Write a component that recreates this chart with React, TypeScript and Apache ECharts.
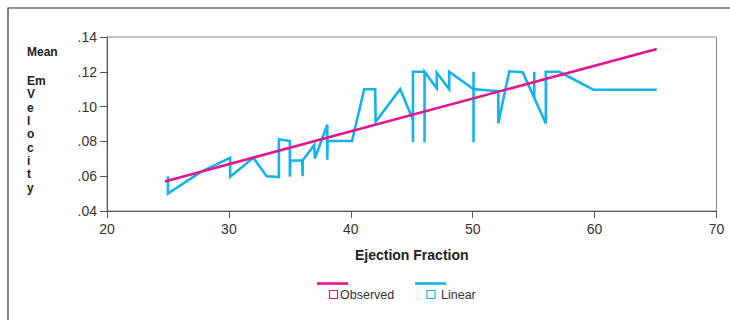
import React, { useEffect, useRef } from "react";
import * as echarts from "echarts";

const observedX = [25, 25, 27.7, 30.1, 30.1, 32, 33.1, 34.1, 34.1, 35, 35, 35.05, 36, 36.05, 36.05, 37, 37.05, 38.07, 38.07, 38.1, 40.1, 41.1, 42, 42.04, 44.05, 45.1, 45.1, 45.1, 46.05, 46.05, 46.05, 47.05, 47.05, 48.07, 48.07, 50.07, 50.07, 50.07, 50.07, 52.1, 52.1, 53.0, 54.1, 55.05, 55.05, 55.05, 56.0, 56.0, 57.1, 59.9, 65.1];
const observedY = [0.060, 0.050, 0.0625, 0.0705, 0.0597, 0.0706, 0.060, 0.0595, 0.0812, 0.0802, 0.0597, 0.0690, 0.0690, 0.0600, 0.0690, 0.0780, 0.0702, 0.0896, 0.0695, 0.0802, 0.0802, 0.1100, 0.1100, 0.0913, 0.1100, 0.0925, 0.0795, 0.1200, 0.1200, 0.0795, 0.1200, 0.1105, 0.1195, 0.1100, 0.1200, 0.1100, 0.1200, 0.0795, 0.1100, 0.1088, 0.0905, 0.1203, 0.1198, 0.1050, 0.1200, 0.1050, 0.0903, 0.1200, 0.1200, 0.1097, 0.1097];

const linearX = [24.75, 65.1];
const linearY = [0.0570, 0.1331];

const xTicks = { min: 20, max: 70, interval: 10 };
const yTicks = { min: 0.04, max: 0.14, interval: 0.02 };

const yNameLetters = ["Em", "V", "e", "l", "o", "c", "i", "t", "y"];

const CYAN = "#13b3ec";
const MAGENTA = "#e5138f";

export default function App() {
  const ref = useRef<HTMLDivElement>(null);
  useEffect(() => {
    if (!ref.current) return;
    const chart = echarts.init(ref.current, null, { renderer: "svg" });
    const font = "Liberation Sans, Arial, sans-serif";
    chart.setOption({
      animation: false,
      backgroundColor: "#ffffff",
      grid: {
        left: 107,
        top: 37,
        right: 13.5,
        bottom: 109,
        show: true,
        borderColor: "#8a8a8a",
        borderWidth: 1,
        backgroundColor: "transparent",
      },
      xAxis: {
        type: "value",
        min: xTicks.min,
        max: xTicks.max,
        interval: xTicks.interval,
        name: "Ejection Fraction",
        nameLocation: "middle",
        nameGap: 37,
        nameTextStyle: { fontFamily: font, fontSize: 14, fontWeight: "bold", color: "#222" },
        axisLine: { show: true, lineStyle: { color: "#555", width: 1 } },
        axisTick: { show: true, length: 7, lineStyle: { color: "#555" } },
        axisLabel: { fontFamily: font, fontSize: 14, color: "#333", margin: 11 },
        splitLine: { show: false },
      },
      yAxis: {
        type: "value",
        min: yTicks.min,
        max: yTicks.max,
        interval: yTicks.interval,
        axisLine: { show: true, lineStyle: { color: "#555", width: 1 } },
        axisTick: { show: true, length: 7, lineStyle: { color: "#555" } },
        axisLabel: {
          fontFamily: font,
          fontSize: 14,
          color: "#333",
          margin: 10,
          formatter: (v: number) => v.toFixed(2).replace(/^0/, ""),
        },
        splitLine: { show: false },
      },
      series: [
        {
          name: "Observed",
          type: "line",
          data: observedX.map((x, i) => [x, observedY[i]]),
          showSymbol: false,
          symbol: "none",
          lineStyle: { color: CYAN, width: 2.6, join: "miter" },
          z: 2,
        },
        {
          name: "Linear",
          type: "line",
          data: linearX.map((x, i) => [x, linearY[i]]),
          showSymbol: false,
          symbol: "none",
          lineStyle: { color: MAGENTA, width: 2.6 },
          z: 3,
        },
      ],
      graphic: [
        {
          type: "rect",
          shape: { x: 8, y: 8, width: 900, height: 500 },
          style: { fill: "none", stroke: "#333", lineWidth: 1.2 },
          silent: true,
        },
        {
          type: "text",
          x: 27,
          y: 52,
          style: { text: "Mean", fontFamily: font, fontSize: 12, fontWeight: "bold", fill: "#222", verticalAlign: "middle", align: "left" },
        },
        ...yNameLetters.map((t, i) => ({
          type: "text",
          x: 27,
          y: 81 + i * 13.33,
          style: { text: t, fontFamily: font, fontSize: 12, fontWeight: "bold", fill: "#222", verticalAlign: "middle", align: "left" },
        })),
        {
          type: "line",
          shape: { x1: 317, y1: 283.5, x2: 348, y2: 283.5 },
          style: { stroke: MAGENTA, lineWidth: 2.6 },
        },
        {
          type: "rect",
          shape: { x: 329.5, y: 290.5, width: 8, height: 8 },
          style: { fill: "#fff", stroke: MAGENTA, lineWidth: 1.2 },
        },
        {
          type: "text",
          x: 340,
          y: 294.5,
          style: { text: "Observed", fontFamily: font, fontSize: 12.5, fill: "#333", verticalAlign: "middle", align: "left" },
        },
        {
          type: "line",
          shape: { x1: 415, y1: 283.5, x2: 446, y2: 283.5 },
          style: { stroke: CYAN, lineWidth: 2.6 },
        },
        {
          type: "rect",
          shape: { x: 427, y: 290.5, width: 8, height: 8 },
          style: { fill: "#fff", stroke: CYAN, lineWidth: 1.2 },
        },
        {
          type: "text",
          x: 441,
          y: 294.5,
          style: { text: "Linear", fontFamily: font, fontSize: 12.5, fill: "#333", verticalAlign: "middle", align: "left" },
        },
      ],
    });
    return () => chart.dispose();
  }, []);
  return (
    <div
      ref={ref}
      style={{ position: "absolute", left: 0, top: 0, width: 730, height: 320 }}
    />
  );
}
